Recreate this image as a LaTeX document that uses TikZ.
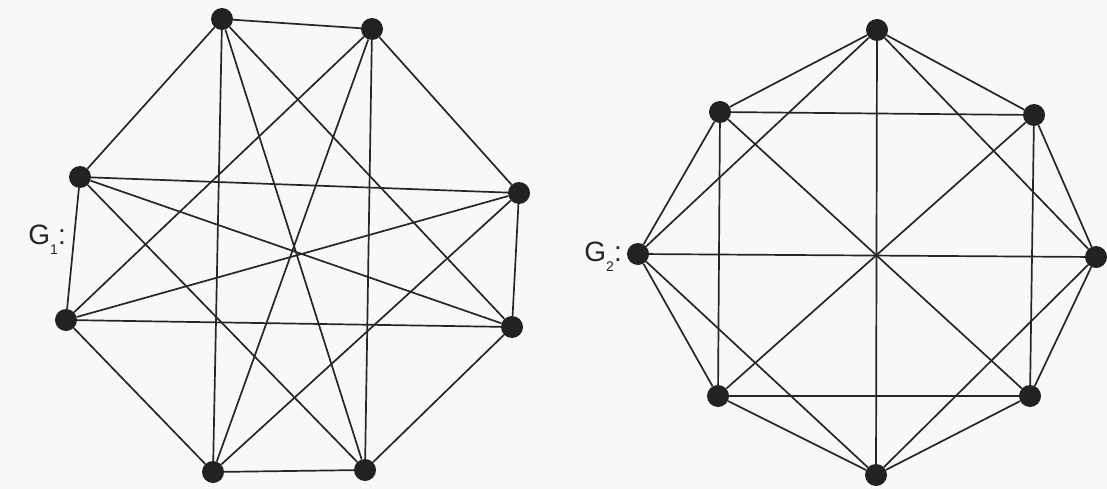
\documentclass[tikz,border=0pt]{standalone}
\usepackage{fontspec}
\setmainfont{Liberation Sans}
\definecolor{bgc}{HTML}{F8F8F6}
\definecolor{linec}{HTML}{262626}
\definecolor{dotc}{HTML}{222222}
\begin{document}
\begin{tikzpicture}[x=1pt,y=-1pt,
  vtx/.style={circle,fill=dotc,inner sep=0pt,minimum size=22pt},
  edge/.style={draw=linec,line width=1.7pt},
  lbl/.style={text=linec,font=\fontsize{28}{32}\selectfont,inner sep=0pt,anchor=east}]
\fill[bgc] (0,0) rectangle (1107,489);
\useasboundingbox (0,0) rectangle (1107,489);
% ---- G1 vertices
\node[vtx] (A) at (222,19) {};
\node[vtx] (B) at (372,29) {};
\node[vtx] (C) at (80,177) {};
\node[vtx] (D) at (519,193) {};
\node[vtx] (E) at (66,320) {};
\node[vtx] (F) at (512,327) {};
\node[vtx] (G) at (213,472) {};
\node[vtx] (H) at (365,470) {};
\foreach \a/\b in {A/B,A/C,A/G,A/H,A/F,B/D,B/H,B/E,B/G,C/E,C/D,C/F,C/H,D/F,D/E,D/G,E/F,E/G,F/H,G/H}
  \draw[edge] (\a) -- (\b);
\node[lbl] (g1) at (66,240) {G\raisebox{-0.35em}{\fontsize{14}{14}\selectfont 1}:};
% ---- G2 vertices
\node[vtx] (T) at (877,30) {};
\node[vtx] (UR) at (1034,115) {};
\node[vtx] (R) at (1096,257) {};
\node[vtx] (LR) at (1030,396) {};
\node[vtx] (Bo) at (876,475) {};
\node[vtx] (LL) at (718,396) {};
\node[vtx] (L) at (638,254) {};
\node[vtx] (UL) at (720,112) {};
\foreach \a/\b in {T/UR,UR/R,R/LR,LR/Bo,Bo/LL,LL/L,L/UL,UL/T,
                   T/R,UR/LR,R/Bo,LR/LL,Bo/L,LL/UL,L/T,UL/UR,
                   T/Bo,UR/LL,R/L,LR/UL}
  \draw[edge] (\a) -- (\b);
\node[lbl] (g2) at (622,257) {G\raisebox{-0.35em}{\fontsize{14}{14}\selectfont 2}:};
\end{tikzpicture}
\end{document}
